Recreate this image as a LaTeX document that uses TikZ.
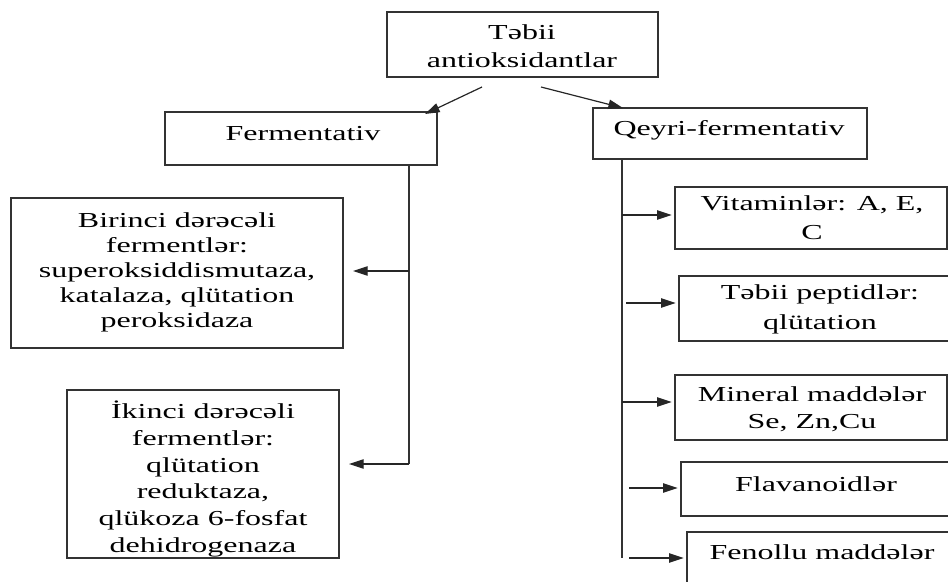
\documentclass[tikz,border=0pt]{standalone}
\usepackage{fontspec}
\setmainfont{Liberation Serif}[FakeStretch=1.5]
\usetikzlibrary{arrows.meta,fit}
\begin{document}
\begin{tikzpicture}[x=0.75pt,y=-0.75pt,
  box/.style={draw=black!80,line width=0.9pt,inner sep=0pt,fill=none},
  txt/.style={align=center,inner sep=0pt,font=\fontsize{16}{20}\selectfont},
  arr/.style={draw=black!85,line width=0.9pt,-{Triangle[length=11pt,width=7pt]}},
  ln/.style={draw=black!80,line width=0.9pt}]
\useasboundingbox (0,0) rectangle (948,581);
% boxes
\node[box,fit={(387,12) (658,77)}] (top) {};
\node[box,fit={(165,112) (437,165)}] (ferm) {};
\node[box,fit={(593,108) (867,159)}] (qeyri) {};
\node[box,fit={(11,198) (343,348)}] (bir) {};
\node[box,fit={(67,390) (339,558)}] (iki) {};
\node[box,fit={(675,187) (947,249)}] (vit) {};
\node[box,fit={(679,276) (965,341)}] (pep) {};
\node[box,fit={(675,375) (947,440)}] (min) {};
\node[box,fit={(681,462) (965,516)}] (fla) {};
\node[box,fit={(687,532) (965,600)}] (fen) {};
% texts
\node[txt,font=\fontsize{16}{21}\selectfont] (ttop) at (522,46) {Təbii\\antioksidantlar};
\node[txt] (tferm) at (303,134) {Fermentativ};
\node[txt] (tqeyri) at (729,130) {Qeyri-fermentativ};
\node[txt,font=\fontsize{16}{18.75}\selectfont] (tbir) at (177,272) {Birinci dərəcəli\\fermentlər:\\superoksiddismutaza,\\katalaza, qlütation\\peroksidaza};
\begin{scope}
\clip (67,390) rectangle (339,556);
\node[txt,font=\fontsize{16}{20}\selectfont] (tiki) at (203,479) {İkinci dərəcəli\\fermentlər:\\qlütation\\reduktaza,\\qlükoza 6-fosfat\\dehidrogenaza};
\end{scope}
\node[txt,font=\fontsize{16}{21.5}\selectfont] (tvit) at (812,218) {Vitaminlər: A, E,\\C};
\node[txt,font=\fontsize{16}{22.5}\selectfont] (tpep) at (820,309) {Təbii peptidlər:\\qlütation};
\node[txt,font=\fontsize{16}{20.25}\selectfont] (tmin) at (812,409) {Mineral maddələr\\Se, Zn,Cu};
\node[txt] (tfla) at (816,484) {Flavanoidlər};
\node[txt] (tfen) at (822,552) {Fenollu maddələr};
% coordinates
\coordinate (a1) at (482,87);
\coordinate (a2) at (425,114);
\coordinate (b1) at (541,87);
\coordinate (b2) at (623,108);
\coordinate (lt) at (409,165);
\coordinate (lb) at (409,464);
\coordinate (l1) at (409,271);
\coordinate (rt) at (622,159);
\coordinate (rb) at (622,558);
\coordinate (r1) at (622,215);
\coordinate (r2) at (626,303);
\coordinate (r3) at (622,402);
\coordinate (r4) at (629,488);
\coordinate (r5) at (629,558);
% connectors
\draw[arr] (a1) -- (a2);
\draw[arr] (b1) -- (b2);
\draw[ln] (lt) -- (lb);
\draw[arr] (l1) -- ([xshift=7pt]bir.east |- l1);
\draw[arr] (lb) -- ([xshift=7pt]iki.east |- lb);
\draw[ln] (rt) -- (rb);
\draw[arr] (r1) -- ([xshift=-2pt]vit.west |- r1);
\draw[arr] (r2) -- ([xshift=-2pt]pep.west |- r2);
\draw[arr] (r3) -- ([xshift=-2pt]min.west |- r3);
\draw[arr] (r4) -- ([xshift=-2pt]fla.west |- r4);
\draw[arr] (r5) -- ([xshift=-2pt]fen.west |- r5);
\end{tikzpicture}
\end{document}
